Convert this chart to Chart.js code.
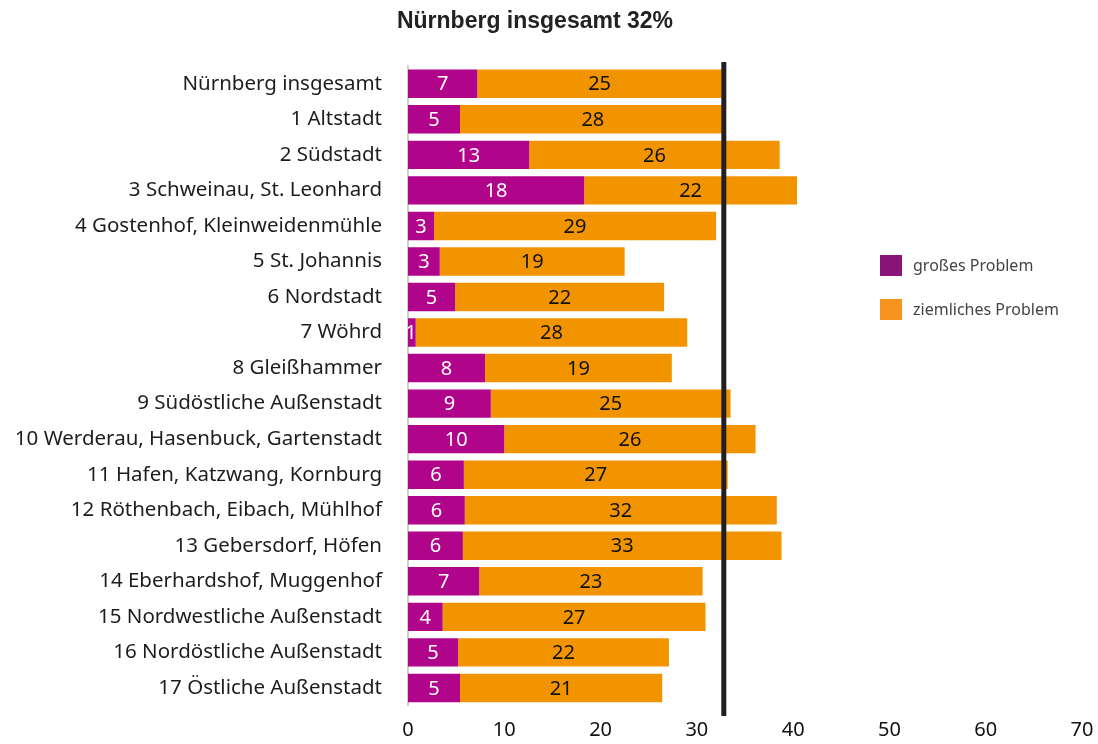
<!DOCTYPE html>
<html>
<head>
<meta charset="utf-8">
<script src="https://cdn.jsdelivr.net/npm/chart.js@4/dist/chart.umd.min.js"></script>
<style>
  body{margin:0;background:#fff;}
  #wrap{position:relative;width:1098px;height:744px;}
  #ttl{position:absolute;left:0;width:1070px;top:7px;text-align:center;font:bold 23px "Liberation Sans",Arial,sans-serif;color:#222;}
  .leg{position:absolute;left:880px;font:16px "Noto Sans",sans-serif;color:#444;display:flex;align-items:center;}
  .leg span.sw{display:inline-block;width:22px;height:21px;margin-right:11px;}
</style>
</head>
<body>
<div id="wrap">
  <div id="ttl">Nürnberg insgesamt 32%</div>
  <canvas id="c" width="1098" height="744"></canvas>
  <div class="leg" style="top:254px"><span class="sw" style="background:#8a1579"></span>großes Problem</div>
  <div class="leg" style="top:298px"><span class="sw" style="background:#f7941d"></span>ziemliches Problem</div>
</div>
<script>
/* categories (Stadtteile) */
var districts=['Nürnberg insgesamt','1 Altstadt','2 Südstadt','3 Schweinau, St. Leonhard','4 Gostenhof, Kleinweidenmühle','5 St. Johannis','6 Nordstadt','7 Wöhrd','8 Gleißhammer','9 Südöstliche Außenstadt','10 Werderau, Hasenbuck, Gartenstadt','11 Hafen, Katzwang, Kornburg','12 Röthenbach, Eibach, Mühlhof','13 Gebersdorf, Höfen','14 Eberhardshof, Muggenhof','15 Nordwestliche Außenstadt','16 Nordöstliche Außenstadt','17 Östliche Außenstadt'];
/* % großes Problem */
var grosses=[7.2,5.4,12.6,18.3,2.7,3.3,4.9,0.8,8.0,8.6,10.0,5.8,5.9,5.7,7.4,3.6,5.2,5.4];
/* % ziemliches Problem */
var ziemlich=[25.4,27.6,26.0,22.1,29.3,19.2,21.7,28.2,19.4,24.9,26.1,27.4,32.4,33.1,23.2,27.3,21.9,21.0];
var avgLine=32.8;
var xTicks=[0,10,20,30,40,50,60,70];

var refLine={id:'refLine',afterDatasetsDraw:function(ch){
  var c=ch.ctx,x=ch.scales.x.getPixelForValue(avgLine);
  c.save();c.strokeStyle='#231f20';c.lineWidth=5;
  c.beginPath();c.moveTo(x,62);c.lineTo(x,716);c.stroke();c.restore();
}};
var barLabels={id:'barLabels',afterDraw:function(ch){
  var c=ch.ctx;c.save();c.font='20px "Noto Sans", sans-serif';c.textAlign='center';c.textBaseline='middle';
  ch.data.datasets.forEach(function(ds,di){
    ch.getDatasetMeta(di).data.forEach(function(b,i){
      c.fillStyle=di===0?'#fff':'#111';
      var v=Math.round(ds.data[i]),cx=(b.x+b.base)/2;
      if(di===0&&v===1)cx=b.base+3;
      c.fillText(String(v),cx,b.y+1);
    });
  });
  c.restore();
}};

new Chart(document.getElementById('c'),{
  type:'bar',
  data:{labels:districts,datasets:[
    {label:'großes Problem',data:grosses,backgroundColor:'#b0058a',barPercentage:0.8,categoryPercentage:1},
    {label:'ziemliches Problem',data:ziemlich,backgroundColor:'#f29400',barPercentage:0.8,categoryPercentage:1}
  ]},
  options:{
    indexAxis:'y',responsive:false,animation:false,
    layout:{padding:{top:66,right:16,left:0,bottom:0}},
    plugins:{legend:{display:false},tooltip:{enabled:false}},
    scales:{
      x:{stacked:true,min:0,max:70,
        afterFit:function(s){s.height=38;s.paddingLeft=0;s.paddingRight=0;},
        afterBuildTicks:function(s){s.ticks=xTicks.map(function(v){return{value:v};});},
        grid:{display:false,drawTicks:false},border:{display:false},
        ticks:{padding:13,color:'#111',font:{family:'"Noto Sans", sans-serif',size:20}}},
      y:{stacked:true,
        afterFit:function(s){s.width=408;},
        grid:{display:false,drawTicks:false},border:{display:true,color:'#cfcfcf',width:2},
        ticks:{padding:26,color:'#1d1d1b',font:{family:'"Noto Sans", sans-serif',size:20.5}}}
    }
  },
  plugins:[refLine,barLabels]
});
</script>
</body>
</html>
